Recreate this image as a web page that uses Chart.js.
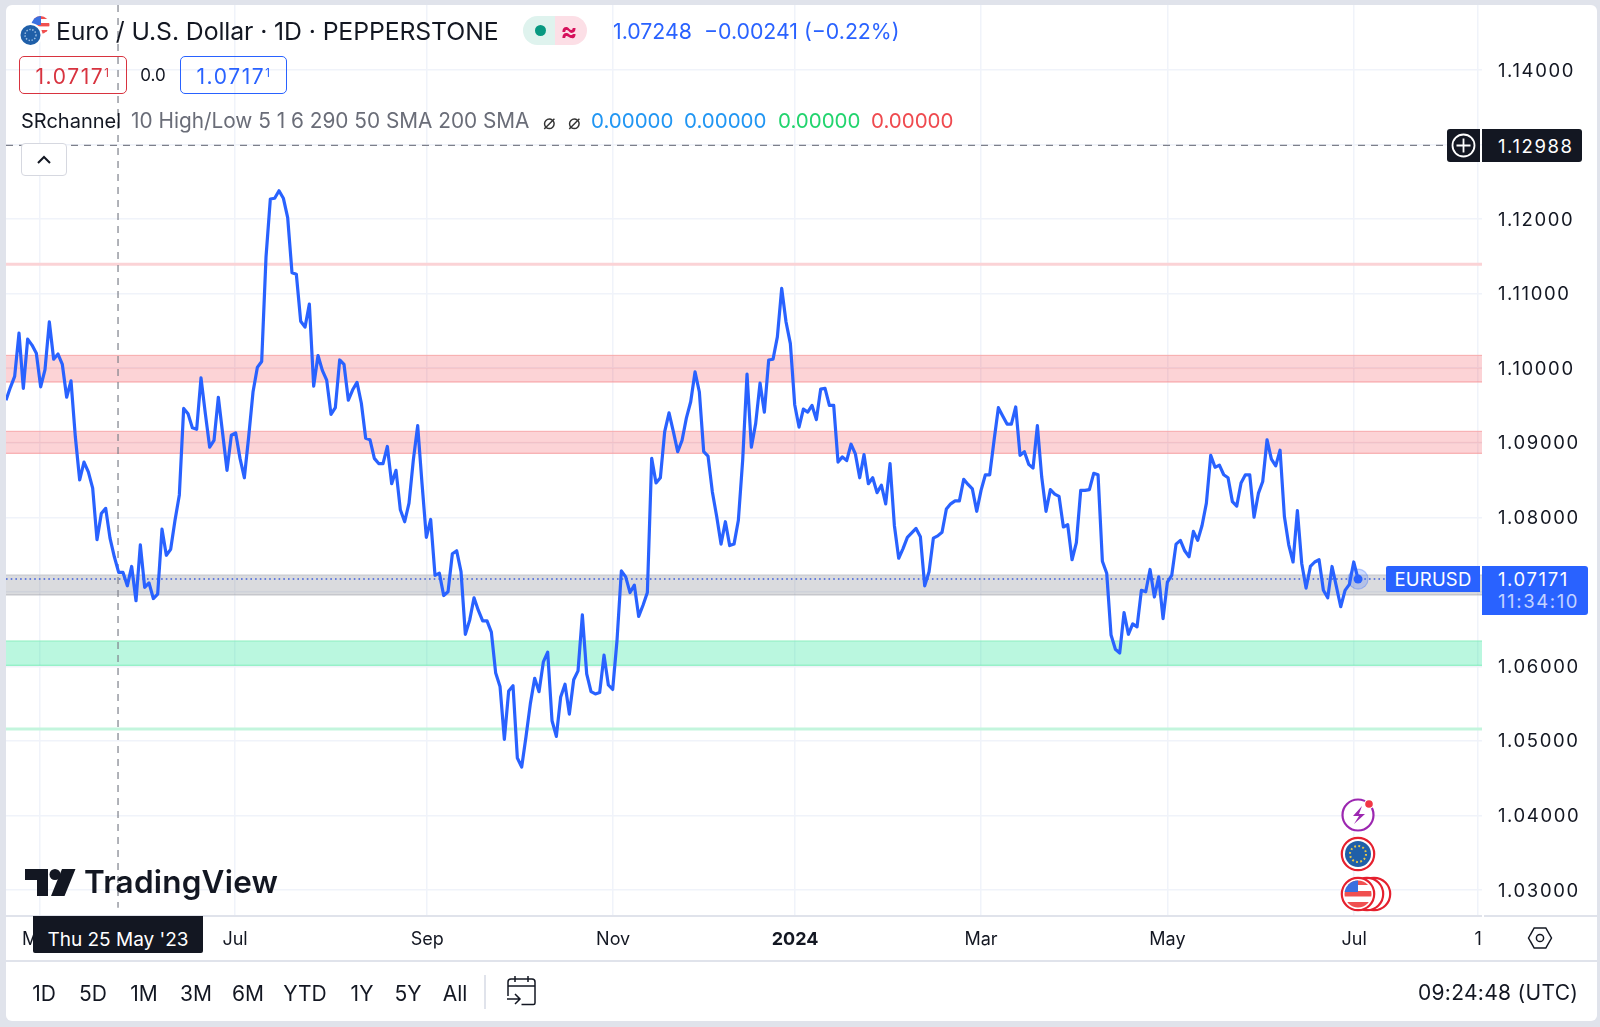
<!DOCTYPE html>
<html><head><meta charset="utf-8">
<script src="https://cdn.jsdelivr.net/npm/chart.js@4"></script>
<style>
html,body{margin:0;padding:0;width:1600px;height:1027px;overflow:hidden;background:#e0e3eb;font-family:Inter,"Noto Sans",sans-serif;color:#131722}
#card{position:absolute;left:6px;top:5px;width:1591px;height:1016px;background:#fff;border-radius:6px}
canvas{position:absolute;left:0;top:0}
.t{position:absolute;white-space:nowrap;line-height:1;transform:translateY(-50%)}
.c{transform:translate(-50%,-50%)}
.b{position:absolute;box-sizing:border-box}
svg{position:absolute;overflow:visible}
sup{font-size:.55em;line-height:0;vertical-align:.55em}
</style></head><body>
<div id="card"></div>
<canvas id="c" width="1600" height="1027"></canvas>

<!-- rules of the panes -->
<div class="b" style="left:6px;top:915px;width:1476px;height:2px;background:#e0e3eb"></div>
<div class="b" style="left:1484px;top:915px;width:113px;height:2px;background:#e0e3eb"></div>
<div class="b" style="left:6px;top:960px;width:1591px;height:2px;background:#e0e3eb"></div>

<!-- header -->
<svg style="left:0;top:0" width="60" height="50">
 <defs><clipPath id="us1"><circle cx="40.5" cy="25" r="9"/></clipPath></defs>
 <g clip-path="url(#us1)"><rect x="31" y="16" width="19" height="18" fill="#fff"/>
 <rect x="31" y="16" width="19" height="3" fill="#f05050"/><rect x="31" y="23" width="19" height="3.4" fill="#f05050"/><rect x="31" y="30" width="19" height="4" fill="#f05050"/>
 <rect x="31" y="16" width="10" height="9" fill="#3a6fe0"/></g>
 <circle cx="30.5" cy="35" r="12" fill="#fff"/><circle cx="30.5" cy="35" r="10" fill="#1f5fa8"/>
 <circle cx="30.5" cy="35" r="5.5" fill="none" stroke="#9fc0e4" stroke-width="1.4" stroke-dasharray="1.4 1.6"/>
</svg>
<div class="t" style="left:56px;top:31px;font-size:24.8px;letter-spacing:-.1px">Euro / U.S. Dollar · 1D · PEPPERSTONE</div>
<div class="b" style="left:523px;top:16px;width:32px;height:29px;background:#dff3ee;border-radius:15px 0 0 15px"></div>
<div class="b" style="left:555px;top:16px;width:32px;height:29px;background:#fcdfe6;border-radius:0 15px 15px 0"></div>
<div class="b" style="left:535px;top:25px;width:11px;height:11px;background:#089981;border-radius:50%"></div>
<div class="t c" style="left:569px;top:31px;font-size:25px;font-weight:700;color:#d6125c">≈</div>
<div class="t" style="left:613px;top:32px;font-size:21.3px;color:#2962ff">1.07248&nbsp; −0.00241 (−0.22%)</div>

<div class="b" style="left:19px;top:56px;width:108px;height:38px;border:1.5px solid #d8333f;border-radius:5px"></div>
<div class="t c" style="left:73px;top:76px;font-size:21px;letter-spacing:1.6px;color:#d8333f">1.0717<sup>1</sup></div>
<div class="t c" style="left:153px;top:75px;font-size:17px">0.0</div>
<div class="b" style="left:180px;top:56px;width:107px;height:38px;border:1.5px solid #2962ff;border-radius:5px"></div>
<div class="t c" style="left:234px;top:76px;font-size:21px;letter-spacing:1.6px;color:#2962ff">1.0717<sup>1</sup></div>

<div class="t" style="left:21px;top:121px;font-size:20px">SRchannel</div>
<div class="t" style="left:131px;top:121px;font-size:20.8px;color:#6a6d78">10 High/Low 5 1 6 290 50 SMA 200 SMA</div>
<div class="t c" style="left:549px;top:121px;font-size:21px;color:#333">⌀</div>
<div class="t c" style="left:574px;top:121px;font-size:21px;color:#333">⌀</div>
<div class="t" style="left:591px;top:121px;font-size:20.5px;color:#2196f3">0.00000</div>
<div class="t" style="left:684px;top:121px;font-size:20.5px;color:#2196f3">0.00000</div>
<div class="t" style="left:778px;top:121px;font-size:20.5px;color:#22d46e">0.00000</div>
<div class="t" style="left:871px;top:121px;font-size:20.5px;color:#ef4a4f">0.00000</div>
<div class="b" style="left:21px;top:143px;width:46px;height:33px;background:#fff;border:1.5px solid #d6d8e0;border-radius:4px"></div>
<svg style="left:0;top:0" width="80" height="180"><path d="M38 163l6-6 6 6" fill="none" stroke="#131722" stroke-width="2"/></svg>

<!-- crosshair labels -->
<div class="b" style="left:1447px;top:129px;width:33px;height:33px;background:#131722;border-radius:3px 0 0 3px"></div>
<svg style="left:0;top:0" width="1" height="1"><circle cx="1463.5" cy="145.5" r="11" fill="none" stroke="#fff" stroke-width="1.8"/><path d="M1463.5 138.5v14M1456.5 145.5h14" stroke="#fff" stroke-width="1.8"/></svg>
<div class="b" style="left:1482px;top:129px;width:100px;height:33px;background:#131722;border-radius:0 3px 3px 0"></div>
<div class="t" style="left:1498px;top:146px;font-size:18.5px;letter-spacing:1.6px;color:#fff">1.12988</div>

<!-- last price labels -->
<div class="b" style="left:1386px;top:566px;width:94px;height:26px;background:#2962ff;border-radius:2px 0 0 2px"></div>
<div class="t c" style="left:1433px;top:579px;font-size:18.5px;letter-spacing:.2px;color:#fff">EURUSD</div>
<div class="b" style="left:1482px;top:566px;width:106px;height:49px;background:#2962ff;border-radius:0 3px 3px 0"></div>
<div class="t" style="left:1498px;top:579px;font-size:18.5px;letter-spacing:1.6px;color:#fff">1.07171</div>
<div class="t" style="left:1498px;top:601px;font-size:18.5px;letter-spacing:1.6px;color:#c3d3ff">11:34:10</div>

<!-- event icons -->
<svg style="left:0;top:0" width="1" height="1">
 <defs><clipPath id="us2"><circle cx="1358" cy="894" r="13.5"/></clipPath></defs>
 <circle cx="1358" cy="815" r="15.5" fill="#fff" stroke="#9c27b0" stroke-width="2.2"/>
 <path d="M1362 806l-9 10h6l-5 8 11-10h-6z" fill="#9c27b0"/>
 <circle cx="1369" cy="804" r="5" fill="#fff"/><circle cx="1369" cy="804" r="3.8" fill="#f23645"/>
 <circle cx="1358" cy="854" r="16.2" fill="#fff" stroke="#e5202e" stroke-width="2.2"/>
 <circle cx="1358" cy="854" r="13" fill="#1f5fa8"/>
 <circle cx="1358" cy="854" r="8" fill="none" stroke="#e8c84a" stroke-width="2" stroke-dasharray="1.8 2.4"/>
 <circle cx="1374" cy="894" r="16.2" fill="#fff" stroke="#e5202e" stroke-width="2.2"/>
 <circle cx="1367" cy="894" r="16.2" fill="#fff" stroke="#e5202e" stroke-width="2.2"/>
 <circle cx="1358" cy="894" r="16.2" fill="#fff" stroke="#e5202e" stroke-width="2.2"/>
 <g clip-path="url(#us2)"><rect x="1344" y="880" width="28" height="28" fill="#fff"/>
 <rect x="1344" y="880" width="28" height="5" fill="#f05050"/><rect x="1344" y="891" width="28" height="5.5" fill="#f05050"/><rect x="1344" y="902" width="28" height="6" fill="#f05050"/>
 <rect x="1344" y="880" width="14" height="12" fill="#3a6fe0"/></g>
</svg>

<!-- watermark -->
<svg style="left:0;top:0" width="1" height="1" fill="#131722">
 <path d="M25 869h23v27h-11v-16h-12z"/><circle cx="55" cy="874.5" r="5.5"/><path d="M62 869h13.5l-11 27h-13.5z"/>
</svg>
<div class="t" style="left:84px;top:882px;font-size:31.5px;font-weight:600;letter-spacing:.2px">TradingView</div>

<!-- date tag -->
<div class="b" style="left:33px;top:916px;width:170px;height:37px;background:#131722;border-radius:0 0 2px 2px"></div>
<div class="t c" style="left:118px;top:939px;font-size:19px;color:#fff">Thu 25 May '23</div>

<!-- settings -->
<svg style="left:0;top:0" width="1" height="1"><path d="M1528.5 938l5.7-10h11.6l5.7 10-5.7 10h-11.6z" fill="none" stroke="#131722" stroke-width="1.5"/><circle cx="1540" cy="938" r="3.6" fill="none" stroke="#131722" stroke-width="1.5"/></svg>

<!-- range bar -->
<div class="t c" style="left:44px;top:993px;font-size:21px">1D</div>
<div class="t c" style="left:93px;top:993px;font-size:21px">5D</div>
<div class="t c" style="left:144px;top:993px;font-size:21px">1M</div>
<div class="t c" style="left:196px;top:993px;font-size:21px">3M</div>
<div class="t c" style="left:248px;top:993px;font-size:21px">6M</div>
<div class="t c" style="left:305px;top:993px;font-size:21px">YTD</div>
<div class="t c" style="left:362px;top:993px;font-size:21px">1Y</div>
<div class="t c" style="left:408px;top:993px;font-size:21px">5Y</div>
<div class="t c" style="left:455px;top:993px;font-size:21px">All</div>
<div class="b" style="left:484px;top:975px;width:1.5px;height:34px;background:#e0e3eb"></div>
<svg style="left:0;top:0" width="1" height="1"><path d="M508 996v-14a3 3 0 0 1 3-3h21a3 3 0 0 1 3 3v21a1.5 1.5 0 0 1-1.5 1.5h-12M508 986h27M515 976v6M528 976v6M507 999h12M515 994l5 5-5 5" fill="none" stroke="#131722" stroke-width="1.5"/></svg>
<div class="t" style="left:1418px;top:992px;font-size:21px;letter-spacing:.3px">09:24:48 (UTC)</div>

<script>
// Daily closes of EUR/USD, one per bar
const closes = [
1.0957,1.0974,1.0989,1.1047,1.0973,1.1039,1.1031,1.1020,1.0975,1.0998,
1.1062,1.1012,1.1019,1.1005,1.0961,1.0983,1.0908,1.0850,1.0874,1.0861,
1.0839,1.0770,1.0805,1.0812,1.0772,1.0747,1.0726,1.0726,1.0708,1.0734,
1.0688,1.0763,1.0706,1.0712,1.0691,1.0697,1.0784,1.0749,1.0757,1.0796,
1.0830,1.0946,1.0939,1.0920,1.0918,1.0987,1.0939,1.0894,1.0903,1.0961,
1.0912,1.0863,1.0910,1.0913,1.0879,1.0853,1.0908,1.0968,1.1001,1.1009,
1.1149,1.1227,1.1228,1.1238,1.1228,1.1202,1.1128,1.1126,1.1063,1.1055,
1.1086,1.0976,1.1017,1.0997,1.0984,1.0938,1.0947,1.1011,1.1005,1.0957,
1.0971,1.0981,1.0953,1.0906,1.0904,1.0879,1.0872,1.0872,1.0895,1.0845,
1.0863,1.0810,1.0794,1.0819,1.0877,1.0923,1.0845,1.0773,1.0797,1.0722,
1.0725,1.0695,1.0700,1.0751,1.0755,1.0727,1.0643,1.0662,1.0692,1.0675,
1.0661,1.0661,1.0646,1.0591,1.0573,1.0502,1.0567,1.0574,1.0477,1.0465,
1.0506,1.0550,1.0584,1.0566,1.0606,1.0619,1.0527,1.0506,1.0559,1.0576,
1.0536,1.0582,1.0594,1.0669,1.0590,1.0566,1.0563,1.0565,1.0615,1.0575,
1.0569,1.0635,1.0728,1.0720,1.0699,1.0709,1.0667,1.0682,1.0699,1.0879,
1.0846,1.0853,1.0915,1.0940,1.0915,1.0888,1.0903,1.0933,1.0955,1.0995,
1.0968,1.0888,1.0882,1.0834,1.0801,1.0764,1.0794,1.0762,1.0764,1.0796,
1.0877,1.0992,1.0894,1.0926,1.0980,1.0941,1.1011,1.1012,1.1042,1.1107,
1.1062,1.1033,1.0951,1.0921,1.0945,1.0941,1.0950,1.0931,1.0972,1.0973,
1.0950,1.0950,1.0874,1.0881,1.0876,1.0898,1.0885,1.0853,1.0884,1.0845,
1.0853,1.0833,1.0843,1.0818,1.0872,1.0789,1.0745,1.0758,1.0773,1.0779,
1.0785,1.0774,1.0708,1.0727,1.0772,1.0775,1.0780,1.0811,1.0818,1.0822,
1.0822,1.0851,1.0844,1.0838,1.0808,1.0836,1.0857,1.0857,1.0903,1.0947,
1.0936,1.0925,1.0925,1.0948,1.0883,1.0888,1.0871,1.0866,1.0923,1.0854,
1.0808,1.0837,1.0831,1.0828,1.0787,1.0790,1.0743,1.0766,1.0836,1.0836,
1.0837,1.0859,1.0857,1.0741,1.0725,1.0642,1.0623,1.0618,1.0672,1.0643,
1.0657,1.0653,1.0702,1.0700,1.0730,1.0693,1.0720,1.0664,1.0713,1.0722,
1.0764,1.0769,1.0755,1.0747,1.0781,1.0769,1.0789,1.0819,1.0883,1.0867,
1.0870,1.0857,1.0853,1.0821,1.0815,1.0846,1.0857,1.0857,1.0800,1.0832,
1.0848,1.0904,1.0878,1.0869,1.0890,1.0801,1.0763,1.0740,1.0809,1.0738,
1.0705,1.0734,1.0740,1.0743,1.0702,1.0692,1.0734,1.0707,1.0680,1.0702,
1.0710,1.0740,1.07171];

const priceTicks = [1.03,1.04,1.05,1.06,1.07,1.08,1.09,1.10,1.11,1.12,1.13,1.14];
const hiddenPriceLabels = [1.07,1.13];
const monthLabels = ['May','Jul','Sep','Nov','2024','Mar','May','Jul','1'];
const monthBars   = [7.85,52.85,97.2,140.1,182.1,225,268,311.1,339.7];

const xRange = [0,340.6];
const yRange = [1.02651,1.14872];

const supportBands = [1.06014,1.0634];
const resistBandLow = [1.09814,1.10172];
const resistBandMid = [1.08858,1.09153];
const neutralBand = [1.06957,1.07225];
const resistLine = 1.11393;
const supportLine = 1.0516;
const lastPrice = 1.07171;
const crossPrice = 1.12988;
const crossBar = 25.85;
const crossBottom = 1.0276;
const lastLineEnd = 318.3;
const crossLineEnd = 332.6;

function hline(y,opts,from,to){
  return Object.assign({type:'line',pointRadius:0,borderWidth:1,fill:false,order:5,
    data:[{x:from===undefined?xRange[0]:from,y},{x:to===undefined?xRange[1]:to,y}]},opts);
}
function band(pair,fill,edge){
  return [
    hline(pair[1],{borderColor:edge,backgroundColor:fill,fill:'+1',order:6}),
    hline(pair[0],{borderColor:edge,order:6})
  ];
}
const redFill='rgba(242,54,69,.22)',redEdge='#f7a9ab';
const datasets=[
  {type:'line',label:'EURUSD',data:closes.map((y,x)=>({x,y})),borderColor:'#2962ff',borderWidth:3.2,
   pointRadius:0,tension:0,fill:false,borderJoinStyle:'round',order:1},
  ...band(resistBandLow,redFill,redEdge),
  ...band(resistBandMid,redFill,redEdge),
  ...band(neutralBand,'rgba(120,123,134,.27)','#c6c7cc'),
  ...band(supportBands,'rgba(0,224,138,.27)','#8beebf'),
  hline(resistLine,{borderColor:'#fbd3d6',borderWidth:3}),
  hline(supportLine,{borderColor:'#c3f5dd',borderWidth:3}),
  hline((resistBandLow[0]+resistBandLow[1])/2,{borderColor:'rgba(247,169,171,.3)'}),
  hline((resistBandMid[0]+resistBandMid[1])/2,{borderColor:'rgba(247,169,171,.3)'}),
  hline(lastPrice,{borderColor:'#3f5fdc',borderWidth:1.6,borderDash:[1.6,3.1],order:3},xRange[0],lastLineEnd),
  hline(crossPrice,{borderColor:'#7d808b',borderWidth:1.2,borderDash:[7,6],order:2},xRange[0],crossLineEnd),
  {type:'line',data:[{x:crossBar,y:yRange[1]},{x:crossBar,y:crossBottom}],borderColor:'#7d808b',borderWidth:1.2,
   borderDash:[7,6],pointRadius:0,fill:false,order:2},
  {type:'scatter',data:[{x:closes.length-1,y:closes[closes.length-1]}],pointRadius:10,borderWidth:1.2,
   backgroundColor:'rgba(41,98,255,.22)',borderColor:'rgba(41,98,255,.3)',order:0},
  {type:'scatter',data:[{x:closes.length-1,y:closes[closes.length-1]}],pointRadius:4.5,borderWidth:0,
   backgroundColor:'#2962ff',order:-1}
];

new Chart(document.getElementById('c'),{
  data:{datasets},
  options:{
    responsive:false,animation:false,devicePixelRatio:1,
    layout:{autoPadding:false,padding:{left:6,top:5,right:0,bottom:0}},
    plugins:{legend:{display:false},tooltip:{enabled:false}},
    scales:{
      x:{type:'linear',min:xRange[0],max:xRange[1],
        afterBuildTicks:a=>{a.ticks=monthBars.map(value=>({value}));},
        afterFit:a=>{a.height=111;a.paddingLeft=0;a.paddingRight=0;},
        border:{display:false},
        grid:{color:'#f0f3fa',lineWidth:1.5,drawTicks:false},
        ticks:{autoSkip:false,maxRotation:0,minRotation:0,padding:13,color:'#131722',
          callback:(v,i)=>monthLabels[i],
          font:c=>({family:'Inter',size:18,weight:c.index===4?'700':'400'})}},
      y:{type:'linear',position:'right',min:yRange[0],max:yRange[1],
        afterBuildTicks:a=>{a.ticks=priceTicks.map(value=>({value}));},
        afterFit:a=>{
          a.width=118;a.paddingTop=0;a.paddingBottom=0;
          if(!a._spaced){
            a._spaced=true;
            const drawLabels=a.drawLabels.bind(a);
            a.drawLabels=area=>{a.ctx.letterSpacing='1.6px';drawLabels(area);a.ctx.letterSpacing='0px';};
          }
        },
        border:{display:false},
        grid:{color:'#f0f3fa',lineWidth:1.5,drawTicks:false},
        ticks:{padding:16,labelOffset:1,color:'#131722',autoSkip:false,
          callback:v=>hiddenPriceLabels.includes(v)?'':v.toFixed(5),
          font:{family:'Inter',size:18.5}}}
    }
  }
});
</script>
</body></html>
